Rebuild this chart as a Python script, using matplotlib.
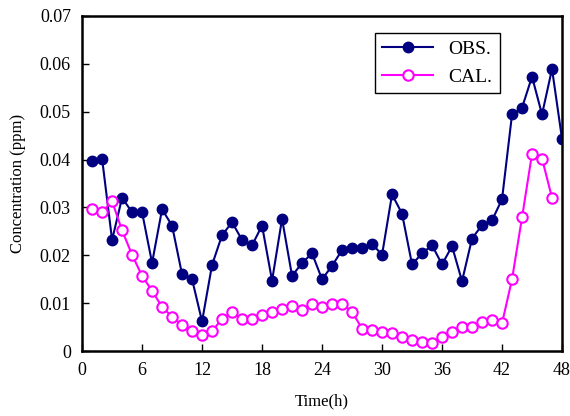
import matplotlib
matplotlib.use('Agg')
import matplotlib.pyplot as plt

hours_obs = list(range(1, 49))
obs = [0.0396, 0.0402, 0.0232, 0.0320, 0.0290, 0.0290, 0.0184, 0.0296, 0.0262, 0.0160,
       0.0150, 0.0062, 0.0180, 0.0242, 0.0269, 0.0232, 0.0221, 0.0262, 0.0147, 0.0276,
       0.0157, 0.0184, 0.0204, 0.0150, 0.0178, 0.0211, 0.0215, 0.0215, 0.0224, 0.0201,
       0.0327, 0.0287, 0.0181, 0.0204, 0.0221, 0.0181, 0.0219, 0.0146, 0.0235, 0.0263,
       0.0273, 0.0317, 0.0494, 0.0508, 0.0573, 0.0494, 0.0589, 0.0443]
hours_cal = list(range(1, 48))
cal = [0.0296, 0.0290, 0.0313, 0.0252, 0.0201, 0.0157, 0.0126, 0.0092, 0.0072, 0.0054,
       0.0041, 0.0034, 0.0041, 0.0068, 0.0081, 0.0068, 0.0068, 0.0075, 0.0082, 0.0088,
       0.0095, 0.0086, 0.0099, 0.0092, 0.0099, 0.0099, 0.0082, 0.0047, 0.0044, 0.0040,
       0.0037, 0.0030, 0.0023, 0.0020, 0.0016, 0.0030, 0.0040, 0.0051, 0.0051, 0.0061,
       0.0064, 0.0058, 0.0150, 0.0279, 0.0412, 0.0402, 0.0320]

plt.rcParams['font.family'] = ['Liberation Serif', 'DejaVu Serif']

fig = plt.figure(figsize=(5.7, 4.16), dpi=100)
ax = fig.add_axes([0.144, 0.156, 0.842, 0.806])

ax.plot(hours_obs, obs, color='#000080', lw=1.5, marker='o', ms=7.5,
        mfc='#000080', mec='#000080', label='OBS.')
ax.plot(hours_cal, cal, color='#ff00ff', lw=1.5, marker='o', ms=7.5,
        mfc='white', mec='#ff00ff', mew=1.5, label='CAL.')

ax.set_xlim(0, 48)
ax.set_ylim(0, 0.07)
ax.set_xticks(range(0, 49, 6))
ax.set_yticks([0, 0.01, 0.02, 0.03, 0.04, 0.05, 0.06, 0.07])
ax.set_yticklabels(['0', '0.01', '0.02', '0.03', '0.04', '0.05', '0.06', '0.07'])
ax.tick_params(direction='in', length=5, width=1, labelsize=13, top=False, right=False, pad=8)
for s in ax.spines.values():
    s.set_linewidth(1.8)

ax.set_xlabel('Time(h)', fontsize=12, labelpad=10)
ax.set_ylabel('Concentration (ppm)', fontsize=12, labelpad=10)

leg = ax.legend(loc='upper right', bbox_to_anchor=(0.871, 0.949), borderaxespad=0,
                fancybox=False, edgecolor='black', fontsize=14, handlelength=2.6,
                framealpha=1)
leg.get_frame().set_linewidth(1.0)

fig.savefig('out.png', dpi=100)
